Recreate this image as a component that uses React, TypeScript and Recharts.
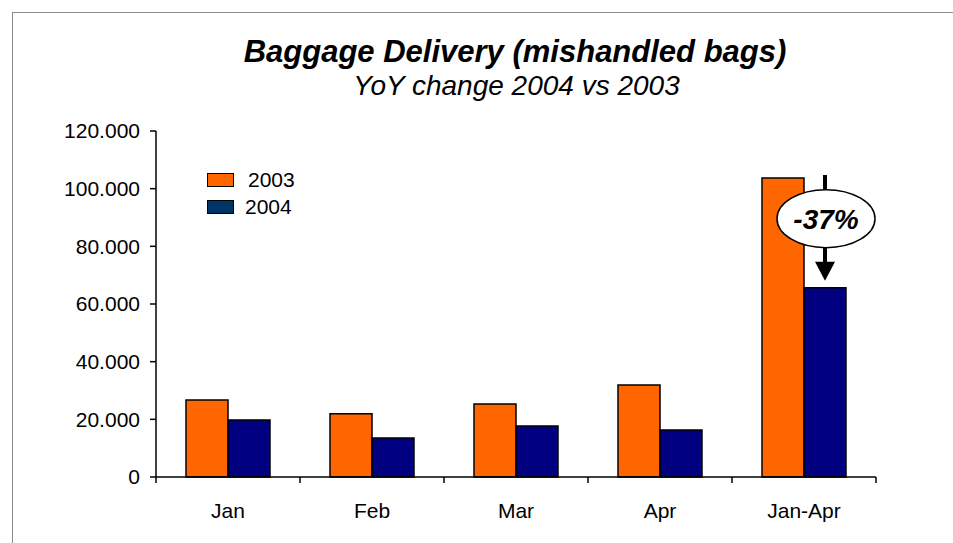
import { BarChart, Bar, XAxis, YAxis, LabelList } from 'recharts';

const months = ['Jan', 'Feb', 'Mar', 'Apr', 'Jan-Apr'];
const bags2003 = [26700, 21900, 25300, 31900, 103700];
const bags2004 = [19800, 13500, 17700, 16300, 65600];
const yTicks = [0, 20000, 40000, 60000, 80000, 100000, 120000];
const seriesNames = ['2003', '2004'];

const barColors = ['#FF6600', '#000080'];
const legendColors = ['#FF6600', '#003366'];

const data = months.map((m, i) => ({ month: m, y2003: bags2003[i], y2004: bags2004[i] }));

const W = 953;
const H = 543;
const PLOT_LEFT = 156;
const PLOT_RIGHT = 876;
const font = '"Liberation Sans", Arial, sans-serif';

const fmt = (v: number) => String(v).replace(/\B(?=(\d{3})+(?!\d))/g, '.');

const CategoryTick = (props: any) => {
  const { x, y, payload, index } = props;
  const band = (PLOT_RIGHT - PLOT_LEFT) / months.length;
  const last = index === months.length - 1;
  return (
    <g>
      <line x1={x - band / 2} x2={x - band / 2} y1={y} y2={y + 6} stroke="#000" strokeWidth={1.5} />
      {last && <line x1={x + band / 2} x2={x + band / 2} y1={y} y2={y + 6} stroke="#000" strokeWidth={1.5} />}
      <text x={x} y={y + 41} textAnchor="middle" fontSize={21} fontFamily={font} fill="#000">
        {payload.value}
      </text>
    </g>
  );
};

// arrow from the 2003 total down to the 2004 total, with the YoY change in an ellipse
const ChangeArrow = (props: any) => {
  const { x, y, width, height, index } = props;
  const i = months.length - 1;
  if (index !== i) return null;
  const cx = x + width / 2;
  const bottom = y + height;
  const scale = height / bags2004[i];
  const top2003 = bottom - bags2003[i] * scale;
  const change = Math.round((bags2004[i] / bags2003[i] - 1) * 100);
  const cy = top2003 + 0.37 * (y - top2003);
  return (
    <g>
      <line x1={cx} x2={cx} y1={top2003 - 3} y2={y - 22} stroke="#000" strokeWidth={4} />
      <polygon points={`${cx - 10},${y - 26} ${cx + 10},${y - 26} ${cx},${y - 7}`} fill="#000" />
      <ellipse cx={cx + 1} cy={cy} rx={49} ry={29} fill="#fff" stroke="#000" strokeWidth={1.5} />
      <text x={cx + 1} y={cy + 10} textAnchor="middle" fontSize={28} fontWeight="bold" fontStyle="italic" fontFamily={font} fill="#000">
        {`${change}%`}
      </text>
    </g>
  );
};

const App = () => {
  return (
    <div style={{ position: 'absolute', left: 0, top: 0, width: W, height: H, background: '#fff', overflow: 'hidden' }}>
      <div
        style={{
          position: 'absolute',
          left: 12,
          top: 12,
          width: W,
          height: H,
          borderLeft: '1.5px solid #8a8a8a',
          borderTop: '1.5px solid #8a8a8a',
        }}
      />
      <div
        style={{
          position: 'absolute',
          left: 0,
          width: 1030,
          top: 34,
          textAlign: 'center',
          fontFamily: font,
          fontSize: 31,
          fontWeight: 'bold',
          fontStyle: 'italic',
          lineHeight: '36px',
        }}
      >
        Baggage Delivery (mishandled bags)
      </div>
      <div
        style={{
          position: 'absolute',
          left: 0,
          width: 1033,
          top: 70,
          textAlign: 'center',
          fontFamily: font,
          fontSize: 28,
          fontStyle: 'italic',
          lineHeight: '32px',
        }}
      >
        YoY change 2004 vs 2003
      </div>
      <div style={{ position: 'absolute', left: 207, top: 166, fontFamily: font, fontSize: 21 }}>
        {seriesNames.map((name, i) => (
          <div key={name} style={{ display: 'flex', alignItems: 'center', height: 27 }}>
            <span
              style={{
                display: 'inline-block',
                width: 25,
                height: 12,
                background: legendColors[i],
                border: '1.5px solid #000',
                marginRight: i === 0 ? 14 : 11,
              }}
            />
            <span>{name}</span>
          </div>
        ))}
      </div>
      <div style={{ position: 'absolute', left: 0, top: 0 }}>
        <BarChart
          width={W}
          height={H}
          data={data}
          margin={{ top: 131, right: W - PLOT_RIGHT, bottom: 26, left: 0 }}
          barCategoryGap={30}
          barGap={0}
        >
          <XAxis
            dataKey="month"
            height={40}
            tickSize={0}
            tickMargin={0}
            tickLine={false}
            axisLine={{ stroke: '#000', strokeWidth: 1.5 }}
            tick={<CategoryTick />}
            interval={0}
          />
          <YAxis
            width={PLOT_LEFT}
            domain={[0, 120000]}
            ticks={yTicks}
            tickFormatter={fmt}
            tickSize={6}
            tickMargin={10}
            tickLine={{ stroke: '#000', strokeWidth: 1.5 }}
            axisLine={{ stroke: '#000', strokeWidth: 1.5 }}
            tick={{ fill: '#000', fontSize: 21, fontFamily: font }}
            interval={0}
          />
          <Bar dataKey="y2003" name={seriesNames[0]} fill={barColors[0]} stroke="#000" strokeWidth={1.5} isAnimationActive={false} />
          <Bar dataKey="y2004" name={seriesNames[1]} fill={barColors[1]} stroke="#000" strokeWidth={1.5} isAnimationActive={false}>
            <LabelList dataKey="y2004" content={<ChangeArrow />} />
          </Bar>
        </BarChart>
      </div>
    </div>
  );
};

export default App;
